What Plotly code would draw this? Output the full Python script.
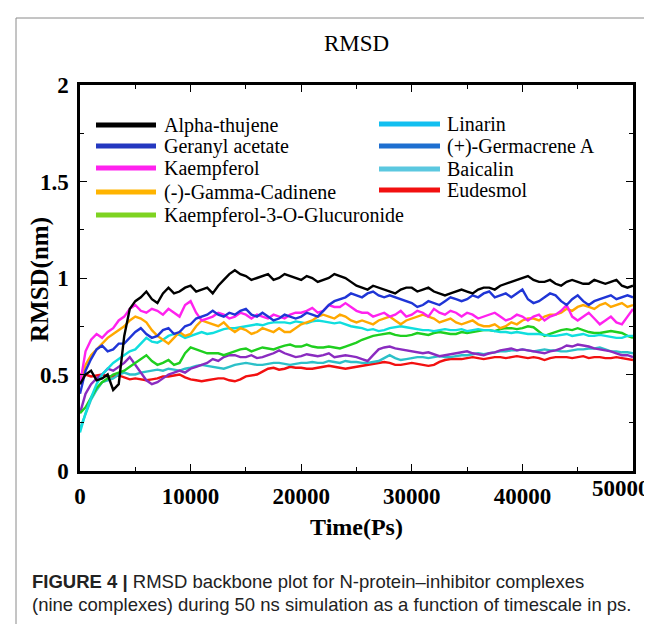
import plotly.graph_objects as go

# ---------------- data ----------------
# values at every 1000 ps ...
time_main = list(range(0, 50001, 1000))
# ... and readings in between (500, 1500, ..., 49500 ps)
time_mid = list(range(500, 50000, 1000))

names = ["Alpha-thujene", "Geranyl acetate", "Kaempferol", "(-)-Gamma-Cadinene",
         "Kaempferol-3-O-Glucuronide", "Linarin", "(+)-Germacrene A", "Baicalin", "Eudesmol"]

alpha_thujene = [0.45,0.52,0.48,0.42,0.70,0.88,0.93,0.87,0.95,0.93,0.96,0.94,0.92,0.99,1.04,1.01,1.00,1.02,1.00,1.01,
                 0.99,1.00,0.99,1.02,1.00,0.96,0.94,0.95,0.93,0.94,0.95,0.94,0.93,0.91,0.93,0.93,0.94,0.95,0.96,0.98,
                 1.00,0.99,0.98,0.97,0.98,0.98,0.97,0.98,0.98,0.96,0.96]
alpha_thujene_mid = [0.50,0.47,0.50,0.45,0.84,0.90,0.89,0.92,0.92,0.95,0.93,0.95,0.96,1.02,1.02,0.99,1.01,0.99,1.02,1.00,
                     1.01,0.98,1.00,1.01,0.98,0.95,0.96,0.94,0.92,0.95,0.93,0.95,0.92,0.92,0.94,0.92,0.95,0.94,0.97,0.99,
                     1.01,0.98,0.99,0.96,0.99,0.97,0.99,0.97,0.99,0.95]

geranyl_acetate = [0.40,0.58,0.65,0.63,0.66,0.72,0.71,0.70,0.74,0.72,0.76,0.80,0.83,0.80,0.81,0.84,0.80,0.80,0.79,0.80,
                   0.80,0.81,0.83,0.88,0.90,0.91,0.92,0.91,0.91,0.89,0.87,0.86,0.87,0.88,0.89,0.89,0.90,0.93,0.91,0.90,
                   0.94,0.87,0.90,0.91,0.86,0.91,0.86,0.89,0.91,0.90,0.90]
geranyl_acetate_mid = [0.52,0.63,0.62,0.66,0.69,0.74,0.69,0.73,0.71,0.75,0.79,0.81,0.81,0.82,0.83,0.81,0.82,0.78,0.81,0.79,
                       0.82,0.80,0.86,0.89,0.92,0.90,0.93,0.90,0.90,0.88,0.85,0.88,0.86,0.90,0.88,0.91,0.92,0.90,0.92,0.92,
                       0.89,0.88,0.92,0.88,0.89,0.88,0.88,0.90,0.89,0.91]

kaempferol = [0.45,0.68,0.69,0.74,0.80,0.86,0.82,0.83,0.84,0.80,0.88,0.78,0.80,0.81,0.80,0.81,0.81,0.79,0.80,0.81,
              0.82,0.845,0.83,0.85,0.87,0.83,0.82,0.81,0.80,0.83,0.81,0.82,0.84,0.81,0.82,0.82,0.79,0.81,0.80,0.79,
              0.80,0.80,0.78,0.81,0.86,0.78,0.82,0.76,0.80,0.76,0.84]
kaempferol_mid = [0.62,0.71,0.72,0.78,0.84,0.83,0.84,0.81,0.82,0.86,0.82,0.79,0.82,0.79,0.82,0.79,0.80,0.81,0.79,0.82,
                  0.83,0.82,0.86,0.85,0.85,0.82,0.80,0.82,0.81,0.80,0.83,0.80,0.82,0.83,0.80,0.81,0.80,0.82,0.78,0.81,
                  0.78,0.81,0.80,0.83,0.80,0.80,0.79,0.78,0.77,0.80]

gamma_cadinene = [0.45,0.60,0.66,0.71,0.75,0.80,0.77,0.70,0.66,0.72,0.71,0.78,0.76,0.77,0.72,0.73,0.72,0.73,0.74,0.72,
                  0.76,0.78,0.81,0.79,0.80,0.77,0.77,0.78,0.80,0.76,0.79,0.81,0.79,0.78,0.77,0.77,0.76,0.75,0.74,0.77,
                  0.78,0.79,0.80,0.81,0.84,0.85,0.85,0.86,0.85,0.87,0.86]
gamma_cadinene_mid = [0.55,0.63,0.69,0.73,0.78,0.79,0.73,0.68,0.69,0.70,0.75,0.77,0.75,0.74,0.74,0.71,0.74,0.72,0.72,0.74,
                      0.77,0.80,0.80,0.81,0.78,0.78,0.76,0.79,0.78,0.78,0.80,0.80,0.77,0.79,0.76,0.78,0.75,0.76,0.75,0.76,
                      0.79,0.78,0.81,0.82,0.83,0.86,0.84,0.87,0.86,0.85]

kaempferol_glucuronide = [0.30,0.38,0.46,0.50,0.52,0.56,0.60,0.55,0.575,0.56,0.64,0.62,0.61,0.60,0.62,0.635,0.63,0.635,0.64,0.655,
                          0.645,0.645,0.64,0.64,0.645,0.665,0.69,0.705,0.715,0.70,0.705,0.71,0.715,0.715,0.71,0.715,0.725,0.73,0.735,0.74,
                          0.74,0.745,0.70,0.72,0.735,0.74,0.72,0.715,0.725,0.715,0.69]
kaempferol_glucuronide_mid = [0.33,0.43,0.48,0.51,0.54,0.58,0.57,0.56,0.55,0.61,0.63,0.61,0.61,0.61,0.63,0.62,0.64,0.63,0.65,0.645,
                              0.655,0.64,0.645,0.635,0.655,0.68,0.70,0.71,0.705,0.70,0.715,0.705,0.72,0.71,0.72,0.72,0.73,0.725,0.74,0.735,
                              0.75,0.72,0.71,0.73,0.73,0.73,0.715,0.72,0.72,0.70]

linarin = [0.20,0.38,0.50,0.56,0.60,0.63,0.69,0.665,0.70,0.705,0.70,0.72,0.715,0.735,0.74,0.75,0.76,0.765,0.77,0.765,
           0.77,0.775,0.775,0.765,0.76,0.745,0.73,0.725,0.74,0.75,0.74,0.73,0.725,0.735,0.73,0.725,0.735,0.73,0.72,0.715,
           0.715,0.71,0.705,0.70,0.71,0.705,0.70,0.705,0.695,0.69,0.70]
linarin_mid = [0.30,0.45,0.53,0.58,0.62,0.66,0.67,0.68,0.71,0.69,0.71,0.71,0.725,0.74,0.745,0.755,0.755,0.77,0.77,0.775,
               0.765,0.78,0.77,0.77,0.75,0.74,0.735,0.73,0.745,0.745,0.735,0.73,0.73,0.73,0.735,0.73,0.73,0.725,0.72,0.72,
               0.71,0.71,0.70,0.705,0.70,0.71,0.70,0.70,0.69,0.70]

germacrene_a = [0.30,0.45,0.50,0.52,0.56,0.55,0.47,0.46,0.50,0.52,0.53,0.55,0.58,0.59,0.60,0.59,0.585,0.60,0.625,0.60,
                0.595,0.60,0.60,0.59,0.60,0.59,0.57,0.63,0.645,0.63,0.62,0.61,0.605,0.60,0.61,0.62,0.605,0.61,0.625,0.635,
                0.63,0.62,0.61,0.625,0.65,0.655,0.645,0.63,0.62,0.60,0.59]
germacrene_a_mid = [0.40,0.48,0.53,0.54,0.59,0.51,0.45,0.48,0.51,0.51,0.54,0.56,0.57,0.60,0.59,0.60,0.59,0.61,0.61,0.59,
                    0.605,0.595,0.61,0.595,0.595,0.58,0.60,0.64,0.635,0.625,0.615,0.615,0.595,0.605,0.615,0.61,0.60,0.615,0.63,0.625,
                    0.625,0.615,0.62,0.635,0.645,0.65,0.635,0.625,0.61,0.60]

baicalin = [0.22,0.37,0.46,0.48,0.51,0.50,0.515,0.525,0.53,0.52,0.535,0.55,0.54,0.53,0.55,0.56,0.55,0.555,0.56,0.55,
            0.56,0.565,0.56,0.565,0.57,0.565,0.56,0.57,0.60,0.575,0.585,0.59,0.59,0.59,0.595,0.60,0.61,0.61,0.62,0.625,
            0.63,0.62,0.63,0.625,0.62,0.63,0.635,0.64,0.62,0.615,0.61]
baicalin_mid = [0.30,0.42,0.47,0.50,0.50,0.51,0.52,0.52,0.525,0.53,0.545,0.545,0.535,0.54,0.555,0.555,0.55,0.56,0.555,0.555,
                0.56,0.56,0.57,0.56,0.565,0.56,0.565,0.585,0.585,0.58,0.59,0.585,0.595,0.59,0.60,0.605,0.605,0.615,0.62,0.625,
                0.625,0.625,0.625,0.62,0.625,0.63,0.635,0.63,0.62,0.615]

eudesmol = [0.50,0.49,0.50,0.49,0.485,0.48,0.47,0.48,0.49,0.50,0.475,0.465,0.475,0.48,0.465,0.49,0.50,0.53,0.525,0.54,
            0.535,0.53,0.54,0.54,0.53,0.54,0.55,0.56,0.56,0.55,0.56,0.55,0.55,0.575,0.58,0.585,0.585,0.585,0.59,0.59,
            0.59,0.59,0.575,0.59,0.59,0.59,0.585,0.59,0.585,0.585,0.575]
eudesmol_mid = [0.50,0.495,0.49,0.495,0.475,0.475,0.475,0.49,0.495,0.485,0.47,0.47,0.48,0.47,0.475,0.495,0.515,0.535,0.53,0.535,
                0.53,0.535,0.545,0.535,0.535,0.545,0.555,0.565,0.55,0.555,0.555,0.545,0.565,0.58,0.58,0.59,0.58,0.59,0.585,0.595,
                0.585,0.585,0.585,0.59,0.585,0.595,0.59,0.585,0.59,0.58]

series_main = [alpha_thujene, geranyl_acetate, kaempferol, gamma_cadinene, kaempferol_glucuronide,
               linarin, germacrene_a, baicalin, eudesmol]
series_mid = [alpha_thujene_mid, geranyl_acetate_mid, kaempferol_mid, gamma_cadinene_mid, kaempferol_glucuronide_mid,
              linarin_mid, germacrene_a_mid, baicalin_mid, eudesmol_mid]

line_colors = ["#000000", "#1f35d6", "#ff22ee", "#ffa800", "#1fcf1f",
               "#10dede", "#8a2bc0", "#2cc0c8", "#f21010"]
legend_colors = ["#000000", "#2438c0", "#ff22ee", "#ffb400", "#7ed321",
                 "#12bff0", "#1e6fd0", "#5bc8e0", "#f21010"]

x_ticks = [0, 10000, 20000, 30000, 40000, 50000]
x_ticktext = ["0", "10000", "20000", "30000", "40000", "50000"]
y_ticks = [0, 0.5, 1, 1.5, 2]
y_ticktext = ["0", "0.5", "1", "1.5", "2"]

# ---------------- layout geometry ----------------
W, H = 652, 624
L, R, TOP, BOT = 72, 625, 77, 463

def px(x):
    return (x - L) / (R - L)

def py(y):
    return (BOT - y) / (BOT - TOP)

SERIF = "Liberation Serif, Times New Roman, serif"
SANS = "Liberation Sans, Arial, sans-serif"
TICKFONT = dict(family=SERIF, size=23, color="black", weight="bold")

def merged(main, mid):
    xs, ys = [], []
    for k in range(len(main)):
        xs.append(time_main[k]); ys.append(main[k])
        if k < len(mid):
            xs.append(time_mid[k]); ys.append(mid[k])
    return xs, ys

fig = go.Figure()
draw_order = [8, 7, 6, 4, 5, 3, 2, 1, 0]
for i in draw_order:
    xs, ys = merged(series_main[i], series_mid[i])
    fig.add_trace(go.Scatter(x=xs, y=ys, mode="lines", name=names[i],
                             line=dict(color=line_colors[i], width=2.4), showlegend=False))

fig.update_layout(
    width=W, height=H,
    margin=dict(l=L, r=W - R, t=TOP, b=H - BOT, autoexpand=False),
    paper_bgcolor="white", plot_bgcolor="white",
    showlegend=False,
    title=dict(text="RMSD", x=0.5, xref="paper", y=1 - 35 / H, yref="container",
               xanchor="center", yanchor="middle",
               font=dict(family=SERIF, size=23, color="black")),
)

# the last label sits left of its tick in the reference (it would leave the page if centred),
# so it is written as an annotation just below the axis
x_ticktext_shown = x_ticktext[:-1] + [""]

fig.update_xaxes(
    range=[0, 50000], tickvals=x_ticks, ticktext=x_ticktext_shown, ticks="inside", ticklen=7, tickwidth=1,
    tickcolor="black", showline=True, linewidth=2.5, linecolor="black", mirror="ticks",
    showgrid=False, zeroline=False, automargin=False,
    tickfont=TICKFONT, ticklabelstandoff=3,
    minor=dict(dtick=5000, ticks="inside", ticklen=4, tickwidth=1, tickcolor="black", showgrid=False),
    title=dict(text="Time(Ps)", font=dict(family=SERIF, size=24, color="black", weight="bold"), standoff=10),
)
fig.update_yaxes(
    range=[0, 2], tickvals=y_ticks, ticktext=y_ticktext, ticks="inside", ticklen=7, tickwidth=1,
    tickcolor="black", showline=True, linewidth=2.5, linecolor="black", mirror="ticks",
    showgrid=False, zeroline=False, automargin=False,
    tickfont=TICKFONT, ticklabelstandoff=4,
    minor=dict(dtick=0.25, ticks="inside", ticklen=4, tickwidth=1, tickcolor="black", showgrid=False),
)

fig.add_annotation(text=x_ticktext[-1], xref="paper", yref="paper", x=px(644), y=py(466),
                   xanchor="right", yanchor="top", showarrow=False, font=TICKFONT)

# y-axis title as annotation (placed like the reference)
fig.add_annotation(text="RMSD(nm)", xref="paper", yref="paper", x=px(32), y=py(272),
                   textangle=-90, showarrow=False, xanchor="center", yanchor="middle",
                   font=dict(family=SERIF, size=25, color="black", weight="bold"))

# legend drawn in two columns
left_rows = [117, 138, 160, 184, 207]
right_rows = [116, 138, 161, 182]
entries = [(i, 88, 148, 154, left_rows[i]) for i in range(5)] + \
          [(5 + j, 371, 432, 437, right_rows[j]) for j in range(4)]
for i, x0, x1, xt, yr in entries:
    fig.add_shape(type="line", xref="paper", yref="paper", x0=px(x0), x1=px(x1), y0=py(yr), y1=py(yr),
                  line=dict(color=legend_colors[i], width=5))
    fig.add_annotation(text=names[i], xref="paper", yref="paper", x=px(xt), y=py(yr),
                       xanchor="left", yanchor="middle", showarrow=False,
                       font=dict(family=SERIF, size=20, color="black"))

# outer frame
fig.add_shape(type="rect", xref="paper", yref="paper", x0=px(8), x1=px(700), y0=py(10), y1=py(700),
              line=dict(color="#8a8a8a", width=1), layer="below")

# caption
fig.add_annotation(text="<b>FIGURE 4 |</b> RMSD backbone plot for N-protein\u2013inhibitor complexes",
                   xref="paper", yref="paper", x=px(22), y=py(573), xanchor="left", yanchor="middle",
                   showarrow=False, font=dict(family=SANS, size=18.5, color="#222222"))
fig.add_annotation(text="(nine complexes) during 50 ns simulation as a function of timescale in ps.",
                   xref="paper", yref="paper", x=px(22), y=py(596), xanchor="left", yanchor="middle",
                   showarrow=False, font=dict(family=SANS, size=18.5, color="#222222"))

fig.write_html("out.html")
